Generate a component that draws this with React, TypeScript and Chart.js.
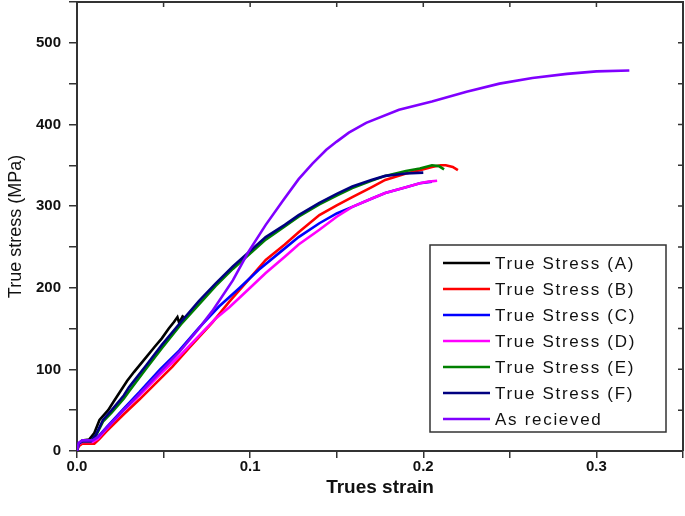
import { useEffect, useRef } from "react";
import { Chart, registerables } from "chart.js";

Chart.register(...registerables);

const seriesLabels = [
  "True Stress (A)",
  "True Stress (B)",
  "True Stress (C)",
  "True Stress (D)",
  "True Stress (E)",
  "True Stress (F)",
  "As recieved",
];
const seriesColors = ["#000000", "#ff0000", "#0000ff", "#ff00ff", "#008000", "#000080", "#8000ff"];

const strainA = [0, 0.001, 0.003, 0.007, 0.010, 0.013, 0.018, 0.021, 0.029, 0.033, 0.040, 0.045, 0.049, 0.053, 0.056, 0.058, 0.059, 0.061, 0.063];
const stressA = [0, 9, 13, 14, 22, 38, 50, 60, 86, 97, 115, 128, 138, 150, 158, 164, 157, 165, 162];

const strainB = [0, 0.001, 0.003, 0.010, 0.013, 0.017, 0.027, 0.036, 0.046, 0.055, 0.065, 0.078, 0.088, 0.100, 0.109, 0.120, 0.128, 0.140, 0.150, 0.159, 0.170, 0.178, 0.190, 0.198, 0.205, 0.210, 0.213, 0.217, 0.220];
const stressB = [0, 6, 9, 9, 15, 24, 45, 63, 84, 103, 127, 157, 183, 212, 234, 253, 268, 289, 301, 311, 323, 332, 340, 344, 348, 350, 350, 348, 344];

const strainC = [0, 0.001, 0.003, 0.009, 0.012, 0.017, 0.027, 0.036, 0.048, 0.059, 0.070, 0.082, 0.094, 0.105, 0.117, 0.128, 0.140, 0.150, 0.159, 0.170, 0.178, 0.190, 0.198, 0.205];
const stressC = [0, 9, 12, 12, 17, 29, 52, 72, 100, 123, 150, 177, 200, 222, 243, 262, 279, 291, 299, 309, 316, 323, 328, 330];

const strainD = [0, 0.001, 0.003, 0.009, 0.012, 0.017, 0.027, 0.036, 0.048, 0.059, 0.070, 0.080, 0.088, 0.100, 0.109, 0.120, 0.128, 0.140, 0.150, 0.159, 0.170, 0.178, 0.190, 0.198, 0.203, 0.208];
const stressD = [0, 8, 11, 11, 15, 27, 50, 68, 94, 116, 140, 162, 176, 200, 218, 238, 253, 271, 287, 299, 309, 316, 323, 328, 330, 331];

const strainE = [0, 0.001, 0.003, 0.008, 0.011, 0.015, 0.020, 0.027, 0.030, 0.040, 0.049, 0.060, 0.074, 0.080, 0.090, 0.100, 0.109, 0.120, 0.128, 0.140, 0.150, 0.159, 0.170, 0.178, 0.190, 0.198, 0.205, 0.209, 0.212];
const stressE = [0, 9, 12, 12, 19, 36, 47, 64, 73, 101, 126, 155, 188, 202, 223, 242, 259, 275, 287, 302, 313, 322, 331, 337, 343, 346, 350, 349, 345];

const strainF = [0, 0.001, 0.003, 0.008, 0.011, 0.015, 0.020, 0.027, 0.030, 0.040, 0.049, 0.060, 0.0705, 0.080, 0.090, 0.100, 0.109, 0.120, 0.128, 0.140, 0.150, 0.159, 0.170, 0.178, 0.190, 0.200];
const stressF = [0, 9, 12, 12, 20, 38, 50, 68, 78, 105, 130, 158, 184, 205, 226, 245, 262, 277, 289, 304, 315, 324, 332, 337, 340, 341];

const strainG = [0, 0.001, 0.003, 0.009, 0.012, 0.017, 0.027, 0.036, 0.048, 0.059, 0.070, 0.078, 0.090, 0.099, 0.109, 0.119, 0.128, 0.136, 0.144, 0.150, 0.157, 0.167, 0.186, 0.205, 0.225, 0.244, 0.263, 0.283, 0.300, 0.319];
const stressG = [0, 10, 13, 13, 17, 28, 50, 70, 97, 121, 149, 171, 209, 244, 277, 307, 333, 352, 369, 379, 390, 402, 418, 428, 440, 450, 457, 462, 465, 466];

const strains = [strainA, strainB, strainC, strainD, strainE, strainF, strainG];
const stresses = [stressA, stressB, stressC, stressD, stressE, stressF, stressG];

const xMin = 0;
const xMax = 0.35;
const xStep = 0.05;
const yMin = 0;
const yMax = 550;
const yStep = 50;

const FONT = "'Liberation Sans', Arial, sans-serif";
const AXIS_COLOR = "#333333";

export default function App() {
  const ref = useRef<HTMLCanvasElement>(null);

  useEffect(() => {
    if (!ref.current) return;
    const datasets = seriesLabels.map((label, i) => ({
      label,
      data: strains[i].map((x, j) => ({ x, y: stresses[i][j] })),
      borderColor: seriesColors[i],
      backgroundColor: seriesColors[i],
      borderWidth: 2.6,
      pointRadius: 0,
      tension: 0,
      fill: false,
      order: -i,
    }));

    const framePlugin = {
      id: "frame",
      afterDraw(chart: any) {
        const { ctx, chartArea } = chart;
        const { left, right, top, bottom } = chartArea;
        const xs = chart.scales.x;
        const ys = chart.scales.y;
        ctx.save();
        ctx.strokeStyle = AXIS_COLOR;
        ctx.lineWidth = 2;
        ctx.beginPath();
        ctx.moveTo(left, top);
        ctx.lineTo(right, top);
        ctx.lineTo(right, bottom);
        ctx.stroke();
        ctx.lineWidth = 1.5;
        ctx.beginPath();
        xs.ticks.forEach((t: any) => {
          const px = xs.getPixelForValue(t.value);
          ctx.moveTo(px, top);
          ctx.lineTo(px, top + 5);
        });
        ys.ticks.forEach((t: any) => {
          const py = ys.getPixelForValue(t.value);
          ctx.moveTo(right, py);
          ctx.lineTo(right - 5, py);
        });
        ctx.stroke();

        // legend
        const bw = 236;
        const bh = 187;
        const bx = right - 17 - bw;
        const by = bottom - 19 - bh;
        ctx.fillStyle = "#ffffff";
        ctx.fillRect(bx, by, bw, bh);
        ctx.strokeStyle = AXIS_COLOR;
        ctx.lineWidth = 1.5;
        ctx.strokeRect(bx, by, bw, bh);
        ctx.font = `17px ${FONT}`;
        (ctx as any).letterSpacing = "1.7px";
        ctx.textBaseline = "middle";
        ctx.textAlign = "left";
        chart.data.datasets.forEach((ds: any, i: number) => {
          const ry = by + 18 + i * 26;
          ctx.strokeStyle = ds.borderColor;
          ctx.lineWidth = 2.6;
          ctx.beginPath();
          ctx.moveTo(bx + 13, ry);
          ctx.lineTo(bx + 60, ry);
          ctx.stroke();
          ctx.fillStyle = "#111111";
          ctx.fillText(ds.label, bx + 65, ry + 1);
        });
        ctx.restore();
      },
    };

    const chart = new Chart(ref.current, {
      type: "line",
      data: { datasets: datasets as any },
      options: {
        animation: false,
        responsive: true,
        maintainAspectRatio: false,
        layout: { padding: { top: 2, right: 2, left: 0, bottom: 0 } },
        plugins: { legend: { display: false }, tooltip: { enabled: false } },
        scales: {
          x: {
            type: "linear",
            min: xMin,
            max: xMax,
            afterFit: (s: any) => {
              s.height = 65;
              s.paddingLeft = 0;
              s.paddingRight = 0;
            },
            ticks: {
              stepSize: xStep,
              autoSkip: false,
              maxRotation: 0,
              color: "#111111",
              padding: 0,
              font: { family: FONT, size: 15, weight: "bold" },
              callback: (v: any) => {
                const n = Number(v) * 10;
                return Math.abs(n - Math.round(n)) < 1e-6 ? Number(v).toFixed(1) : "";
              },
            },
            grid: { drawOnChartArea: false, drawTicks: true, tickLength: 7, color: AXIS_COLOR, lineWidth: 1.5 },
            border: { display: true, color: AXIS_COLOR, width: 2 },
            title: {
              display: true,
              text: "Trues strain",
              color: "#111111",
              font: { family: FONT, size: 19, weight: "bold" },
              padding: { top: 0, bottom: 17 },
            },
          },
          y: {
            min: yMin,
            max: yMax,
            afterFit: (s: any) => {
              s.width = 77;
              s.paddingTop = 0;
              s.paddingBottom = 0;
            },
            ticks: {
              stepSize: yStep,
              autoSkip: false,
              color: "#111111",
              padding: 8,
              font: { family: FONT, size: 15, weight: "bold" },
              callback: (v: any) => (Number(v) % 100 === 0 ? String(v) : ""),
            },
            grid: { drawOnChartArea: false, drawTicks: true, tickLength: 8, color: AXIS_COLOR, lineWidth: 1.5 },
            border: { display: true, color: AXIS_COLOR, width: 2 },
            title: {
              display: true,
              text: "True stress (MPa)",
              color: "#111111",
              font: { family: FONT, size: 18 },
              padding: { top: 5, bottom: 0 },
            },
          },
        },
      },
      plugins: [framePlugin],
    });
    return () => chart.destroy();
  }, []);

  return (
    <div style={{ position: "absolute", left: 0, top: 0, width: 685, height: 516, background: "#ffffff" }}>
      <canvas ref={ref} />
    </div>
  );
}
